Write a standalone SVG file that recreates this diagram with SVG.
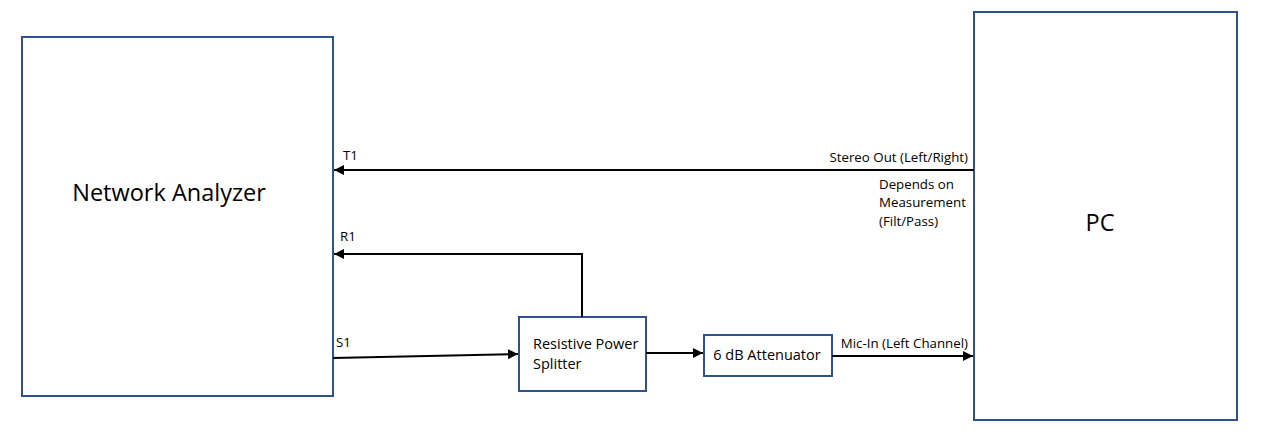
<svg xmlns="http://www.w3.org/2000/svg" width="1271" height="440" viewBox="0 0 1271 440">
<style>
.box{fill:#fff;stroke:#2F528F;stroke-width:2}
.ln{fill:none;stroke:#000;stroke-width:2}
.t{font-family:"Open Sans","Liberation Sans",sans-serif;fill:#000}
.s{font-size:13.3px}
.m{font-size:14.5px}
.l{font-size:23.5px}
</style>
<defs>
<marker id="ah" viewBox="0 0 10 10" refX="10" refY="5" markerWidth="5" markerHeight="5" orient="auto" markerUnits="strokeWidth">
<path d="M0,0 L10,5 L0,10 z" fill="#000"/>
</marker>
</defs>
<rect width="1271" height="440" fill="#fff"/>
<g id="network-analyzer">
<rect class="box" x="22" y="37" width="311" height="359"/>
<text class="t l" x="169" y="201" text-anchor="middle">Network Analyzer</text>
</g>
<g id="pc">
<rect class="box" x="974" y="12" width="263" height="408"/>
<text class="t l" x="1100" y="231" text-anchor="middle">PC</text>
</g>
<g id="splitter">
<rect class="box" x="519" y="317" width="127" height="74"/>
<text class="t m" x="533" y="349">Resistive Power</text>
<text class="t m" x="533" y="369">Splitter</text>
</g>
<g id="attenuator">
<rect class="box" x="704" y="335" width="128" height="41"/>
<text class="t m" x="767" y="360" text-anchor="middle">6 dB Attenuator</text>
</g>
<g id="connectors">
<line class="ln" x1="974" y1="170" x2="334" y2="170" marker-end="url(#ah)"/>
<polyline class="ln" points="582,317 582,254 334,254" marker-end="url(#ah)"/>
<line class="ln" x1="333" y1="358" x2="518" y2="354" marker-end="url(#ah)"/>
<line class="ln" x1="646" y1="353" x2="703" y2="353" marker-end="url(#ah)"/>
<line class="ln" x1="832" y1="356" x2="973" y2="356" marker-end="url(#ah)"/>
</g>
<g id="labels">
<text class="t s" x="343" y="160">T1</text>
<text class="t s" x="340" y="241">R1</text>
<text class="t s" x="336" y="347">S1</text>
<text class="t s" x="968" y="162" text-anchor="end">Stereo Out (Left/Right)</text>
<text class="t s" x="879" y="189">Depends on</text>
<text class="t s" x="879" y="207">Measurement</text>
<text class="t s" x="879" y="226">(Filt/Pass)</text>
<text class="t s" x="968" y="348" text-anchor="end">Mic-In (Left Channel)</text>
</g>
</svg>
